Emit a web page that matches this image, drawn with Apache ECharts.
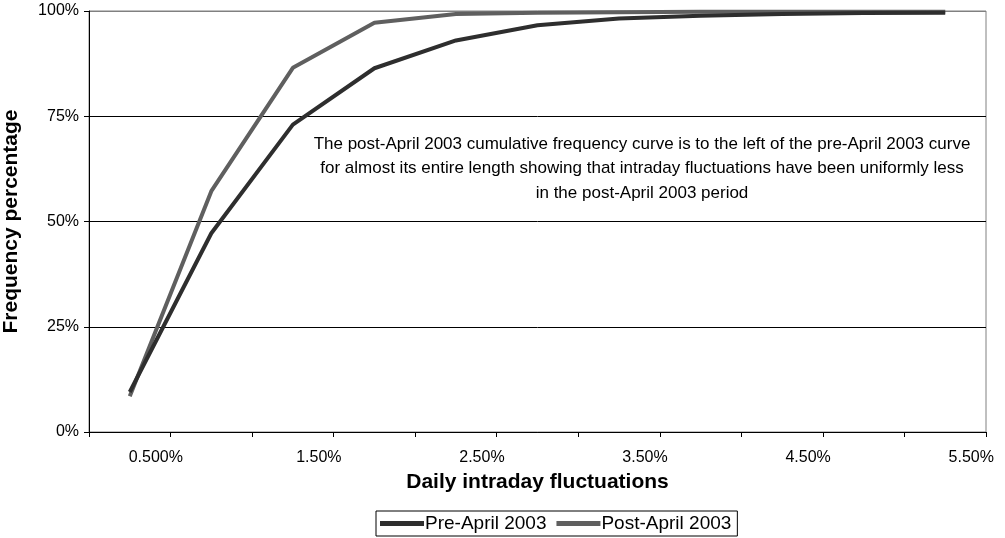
<!DOCTYPE html>
<html>
<head>
<meta charset="utf-8">
<script src="https://cdn.jsdelivr.net/npm/echarts@6/dist/echarts.min.js"></script>
<style>
  html, body { margin: 0; padding: 0; background: #fff; }
  #chart { width: 1005px; height: 538px; }
</style>
</head>
<body>
<div id="chart"></div>
<script>
// bins of daily intraday fluctuation (upper bound of each 0.5% bin)
var categories = ['0.500%', '1.00%', '1.50%', '2.00%', '2.50%', '3.00%', '3.50%', '4.00%', '4.50%', '5.00%', '5.50%'];
// cumulative frequency, %
var preApril = [9.5, 47.2, 73.0, 86.4, 93.0, 96.6, 98.2, 98.9, 99.3, 99.5, 99.6];
var postApril = [8.5, 57.2, 86.5, 97.2, 99.3, 99.6, 99.7, 99.8, 99.8, 99.8, 99.8];
var yTicks = [0, 25, 50, 75, 100];

var note = 'The post-April 2003 cumulative frequency curve is to the left of the pre-April 2003 curve\n' +
  'for almost its entire length showing that intraday fluctuations have been uniformly less\n' +
  'in the post-April 2003 period';

var font = 'Liberation Sans, Arial, sans-serif';
var chart = echarts.init(document.getElementById('chart'), null, { renderer: 'canvas' });

var option = {
  animation: false,
  textStyle: { fontFamily: font },
  grid: {
    left: 89, right: 19, top: 11, bottom: 106,
    containLabel: false,
    outerBoundsMode: 'none',
    show: true, borderColor: '#808080', borderWidth: 1
  },
  xAxis: {
    type: 'category',
    data: categories,
    boundaryGap: true,
    name: 'Daily intraday fluctuations',
    nameLocation: 'middle',
    nameGap: 40,
    nameTextStyle: { fontSize: 21, fontWeight: 'bold', color: '#000', fontFamily: font },
    axisLine: { lineStyle: { color: '#000', width: 1 } },
    axisTick: { show: true, interval: 0, length: 5, lineStyle: { color: '#000' } },
    axisLabel: {
      interval: 1, margin: 18, fontSize: 16, color: '#000', fontFamily: font,
      padding: [0, 0, 0, 52]
    },
    splitLine: { show: false }
  },
  yAxis: {
    type: 'value',
    min: 0, max: 100, interval: 25,
    name: 'Frequency percentage',
    nameLocation: 'middle',
    nameGap: 67,
    nameTextStyle: { fontSize: 21, fontWeight: 'bold', color: '#000', fontFamily: font },
    axisLine: { show: true, lineStyle: { color: '#000', width: 1 } },
    axisTick: { show: true, length: 5, lineStyle: { color: '#000' } },
    axisLabel: {
      margin: 10, fontSize: 16, color: '#000', fontFamily: font,
      formatter: function (v) { return yTicks.indexOf(v) >= 0 ? v + '%' : ''; }
    },
    splitLine: { show: true, lineStyle: { color: ['#000', '#000', '#000', '#000', '#808080'], width: 1 } }
  },
  legend: {
    data: ['Pre-April 2003', 'Post-April 2003'],
    left: 376, bottom: 2,
    orient: 'horizontal',
    icon: 'rect',
    itemWidth: 44, itemHeight: 5, itemGap: 10,
    padding: [3, 6, 3, 4],
    borderColor: '#000', borderWidth: 1, borderRadius: 0,
    textStyle: { fontSize: 19, color: '#000', fontFamily: font, padding: [0, 0, 0, -4] }
  },
  graphic: [{
    type: 'text',
    left: 642 - 340, top: 132,
    style: {
      text: note,
      fill: '#000',
      font: '17px ' + font,
      textAlign: 'center',
      lineHeight: 24.5,
      width: 680
    }
  }],
  series: [
    {
      name: 'Post-April 2003',
      type: 'line',
      data: postApril,
      symbol: 'none',
      lineStyle: { color: '#5f5f5f', width: 4 },
      itemStyle: { color: '#5f5f5f' }
    },
    {
      name: 'Pre-April 2003',
      type: 'line',
      data: preApril,
      symbol: 'none',
      lineStyle: { color: '#2e2e2e', width: 4 },
      itemStyle: { color: '#2e2e2e' }
    }
  ]
};
chart.setOption(option);
</script>
</body>
</html>
